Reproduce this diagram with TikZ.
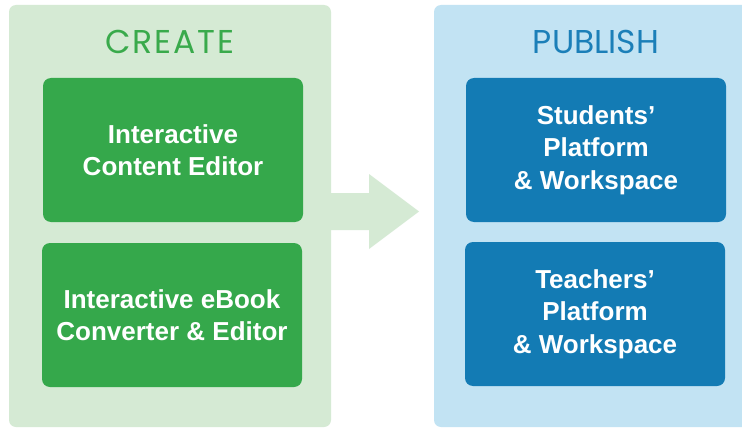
\documentclass[tikz,border=0pt]{standalone}
\usepackage{fontspec}
\setmainfont{Liberation Sans}
\newfontfamily\titlefont{Poppins}
\definecolor{panelgreen}{HTML}{D5EAD4}
\definecolor{boxgreen}{HTML}{35A84B}
\definecolor{titlegreen}{HTML}{39AA4B}
\definecolor{panelblue}{HTML}{C2E3F3}
\definecolor{boxblue}{HTML}{137BB4}
\definecolor{titleblue}{HTML}{1B7FB8}
\tikzset{
  panel/.style={rounded corners=7pt},
  stagebox/.style={rounded corners=8pt, minimum width=260pt, minimum height=144pt,
    inner sep=0pt, align=center, text=white, font=\bfseries\fontsize{26}{32.5}\selectfont},
  titletext/.style={anchor=base, font=\titlefont\fontsize{33}{33}\selectfont}
}
\begin{document}
\begin{tikzpicture}[x=1pt,y=-1pt]
\useasboundingbox (0,0) rectangle (742,428);
\fill[white] (0,0) rectangle (742,428);
% panels
\fill[panelgreen, panel] (9,5) rectangle (331,427);
\fill[panelblue, panel] (434,5) rectangle (760,427);
% arrow
\fill[panelgreen] (325,193) -- (369,193) -- (369,174) -- (419,211.5) -- (369,249) -- (369,230) -- (325,230) -- cycle;
% titles
\node[titletext, text=titlegreen] (create) at (170,54) {\addfontfeature{LetterSpace=6}CREATE};
\node[titletext, text=titleblue] (publish) at (596,54) {PUBLISH};
% boxes
\node[stagebox, fill=boxgreen] (ice) at (173,150) {Interactive\\Content Editor};
\node[stagebox, fill=boxgreen] (iec) at (172,315) {Interactive eBook\\Converter \& Editor};
\node[stagebox, fill=boxblue] (spw) at (596,150) {Students’\\Platform\\\& Workspace};
\node[stagebox, fill=boxblue] (tpw) at (595,314) {Teachers’\\Platform\\\& Workspace};
\end{tikzpicture}
\end{document}
